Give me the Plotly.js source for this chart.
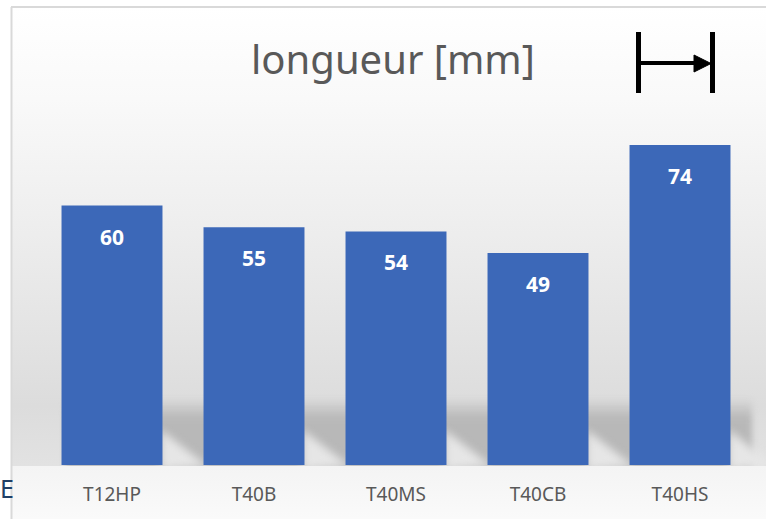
<!DOCTYPE html>
<html>
<head>
<meta charset="utf-8">
<script src="https://cdn.plot.ly/plotly-3.0.1.min.js"></script>
<style>html,body{margin:0;padding:0;background:#fff;}#chart{width:766px;height:519px;}</style>
</head>
<body>
<div id="chart"></div>
<script>
const categories = ["T12HP", "T40B", "T40MS", "T40CB", "T40HS"];
const lengths = [60, 55, 54, 49, 74];
const chartTitle = "longueur [mm]";

const W = 766, H = 519;
const M = {l: 41, r: 15, t: 119, b: 54};
const PW = W - M.l - M.r, PH = H - M.t - M.b;
const px = x => (x - M.l) / PW;
const py = y => (H - M.b - y) / PH;
const BARGAP = 0.289;

// background (wall + floor shadow) drawn on a canvas
const cv = document.createElement('canvas');
cv.width = W; cv.height = H;
const c = cv.getContext('2d');
c.fillStyle = '#ffffff'; c.fillRect(0, 0, W, H);
let g = c.createLinearGradient(0, 7, 0, 466);
g.addColorStop(0, '#ffffff');
g.addColorStop(0.2, '#f9f9f9');
g.addColorStop(0.45, '#efefef');
g.addColorStop(0.7, '#e4e4e4');
g.addColorStop(0.87, '#dcdcdc');
g.addColorStop(1, '#e2e2e2');
c.fillStyle = g; c.fillRect(12, 7, W - 12, 459);
// floor shadow band
const step = PW / categories.length;
const bw = step * (1 - BARGAP);
const firstLeft = M.l + step / 2 - bw / 2;
const bandRight = 752;
c.save();
c.filter = 'blur(3px)';
g = c.createLinearGradient(0, 398, 0, 466);
g.addColorStop(0, 'rgba(184,184,184,0)');
g.addColorStop(0.3, 'rgba(184,184,184,1)');
g.addColorStop(1, 'rgba(184,184,184,1)');
c.fillStyle = g; c.fillRect(firstLeft + 4, 398, bandRight - firstLeft - 4, 70);
c.restore();
// light diagonal after each bar (shadow offset)
c.save();
c.filter = 'blur(4px)';
c.fillStyle = '#e6e6e6';
for (let i = 0; i < categories.length; i++) {
  const xr = M.l + step * (i + 0.5) + bw / 2;
  c.beginPath();
  c.moveTo(xr - 2, 430);
  c.lineTo(xr + 45, 466);
  c.lineTo(xr - 2, 470);
  c.closePath();
  c.fill();
}
c.restore();
g = c.createLinearGradient(0, 466, 0, H);
g.addColorStop(0, '#f4f4f4'); g.addColorStop(1, '#fafafa');
c.fillStyle = g; c.fillRect(12, 466, W - 12, H - 466);
const bg = cv.toDataURL('image/png');

const annotations = categories.map((cat, i) => ({
  x: cat, y: lengths[i], xref: 'x', yref: 'y',
  text: '<b>' + lengths[i] + '</b>', showarrow: false,
  yshift: -31, yanchor: 'middle',
  font: {family: 'Noto Sans, sans-serif', size: 21, color: '#ffffff'}
}));
annotations.push({
  xref: 'paper', yref: 'paper', x: px(-2), y: py(488), xanchor: 'left', yanchor: 'middle',
  text: 'E', showarrow: false,
  font: {family: 'Noto Sans, sans-serif', size: 25, color: '#1f3f66'}
});

const black = {color: '#000000', width: 5};
const shapes = [
  // frame
  {type: 'line', xref: 'paper', yref: 'paper', x0: px(11.5), x1: px(11.5), y0: py(7), y1: py(H + 5), line: {color: '#d9d9d9', width: 2}},
  {type: 'line', xref: 'paper', yref: 'paper', x0: px(11), x1: px(W + 5), y0: py(7), y1: py(7), line: {color: '#d9d9d9', width: 2}},
  // dimension icon
  {type: 'line', xref: 'paper', yref: 'paper', x0: px(638.5), x1: px(638.5), y0: py(32), y1: py(93), line: black},
  {type: 'line', xref: 'paper', yref: 'paper', x0: px(712.5), x1: px(712.5), y0: py(32), y1: py(93), line: black},
  {type: 'line', xref: 'paper', yref: 'paper', x0: px(638), x1: px(698), y0: py(63), y1: py(63), line: {color: '#000', width: 4}},
  {type: 'path', xref: 'paper', yref: 'paper',
   path: `M ${px(694)} ${py(55)} L ${px(711)} ${py(63.5)} L ${px(694)} ${py(72)} Z`,
   fillcolor: '#000', line: {color: '#000', width: 1}}
];

const data = [{
  type: 'bar', x: categories, y: lengths,
  marker: {color: '#3c68b8', line: {width: 0}},
  hoverinfo: 'none'
}];

const layout = {
  width: W, height: H,
  margin: M,
  paper_bgcolor: '#ffffff', plot_bgcolor: 'rgba(0,0,0,0)',
  showlegend: false, bargap: BARGAP,
  title: {text: chartTitle, x: 393 / W, xanchor: 'center', y: 1 - 60 / H, yanchor: 'middle', yref: 'container',
          font: {family: 'Noto Sans, sans-serif', size: 40, color: '#595959'}},
  xaxis: {range: [-0.5, 4.5], showgrid: false, zeroline: false, showline: false, ticks: '',
          ticklabelstandoff: 16,
          tickfont: {family: 'Noto Sans, sans-serif', size: 19, color: '#595959'}, fixedrange: true},
  yaxis: {range: [0, 80], visible: false, fixedrange: true},
  annotations: annotations,
  shapes: shapes,
  images: [{source: bg, xref: 'paper', yref: 'paper', x: px(0), y: py(0), sizex: W / PW, sizey: H / PH,
            xanchor: 'left', yanchor: 'top', sizing: 'stretch', layer: 'below'}]
};

Plotly.newPlot('chart', data, layout, {displayModeBar: false, staticPlot: true});
</script>
</body>
</html>
